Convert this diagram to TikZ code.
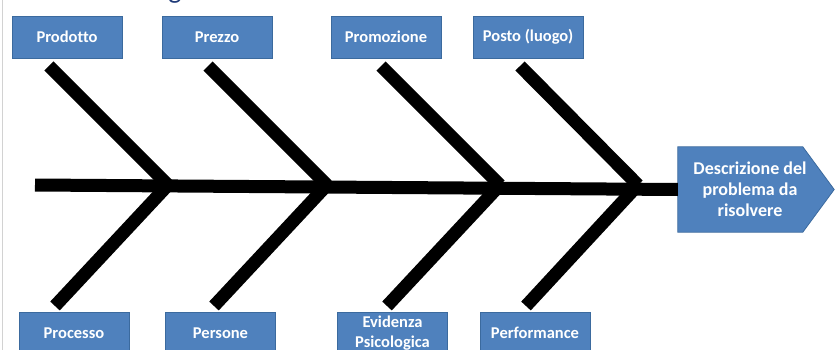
\documentclass[tikz,border=0pt]{standalone}
\usepackage{fontspec}
\setmainfont{Carlito}[Ligatures=CommonOff]
\definecolor{boxfill}{HTML}{4F81BD}
\definecolor{boxline}{HTML}{3B6A9E}
\definecolor{titleblue}{HTML}{1F3A78}
\tikzset{
  catbox/.style={draw=boxline, fill=boxfill, line width=0.8pt, minimum width=110pt, minimum height=42pt,
    inner sep=1pt, text=white, font=\fontsize{16.5}{20}\selectfont\bfseries, align=center},
  probbox/.style={inner sep=0pt, minimum width=144pt, minimum height=85pt, text=white,
    font=\fontsize{18}{21}\selectfont\bfseries, align=center},
  bone/.style={line width=13pt, line cap=butt, black},
}
\begin{document}
\begin{tikzpicture}[x=1pt,y=-1pt]
\useasboundingbox (0,0) rectangle (835,350);
\clip (0,0) rectangle (835,350);
% faint left border line and cut-off title fragment
\draw[gray!35, line width=0.8pt] (2.5,0) -- (2.5,350);
\node[anchor=base, text=titleblue, font=\fontsize{28}{30}\selectfont, inner sep=0pt] (title) at (175,-1.6) {g};
% category boxes
\node[catbox] (prodotto) at (67,37) {Prodotto};
\node[catbox] (prezzo) at (217,37) {Prezzo};
\node[catbox] (promozione) at (386,37) {Promozione};
\node[catbox] (posto) at (528,37) {Posto (luogo)};
\node[catbox] (processo) at (74,333) {Processo};
\node[catbox] (persone) at (220.5,333) {Persone};
\node[catbox] (evidenza) at (392.5,333) {Evidenza\\Psicologica};
\node[catbox] (performance) at (535,333) {Performance};
% problem box (pentagon)
\node[probbox] (prob) at (750,189.5) {};
\fill[boxfill, draw=boxline, line width=0.8pt] (prob.north west) -- ++(125,0) -- ([xshift=12pt]prob.east)
  -- ([xshift=125pt]prob.south west) -- (prob.south west) -- cycle;
\node[probbox] (probtext) at (prob) {Descrizione del\\problema da\\risolvere};
% spine and joints
\coordinate (tail) at (35,185);
\coordinate (j1) at (168,185);
\coordinate (j2) at (327,185);
\coordinate (j3) at (500,185);
\coordinate (j4) at (638,185);
\coordinate (u1) at (49,66);
\coordinate (u2) at (208,66);
\coordinate (u3) at (381,66);
\coordinate (u4) at (520,66);
\coordinate (l1) at (55,306);
\coordinate (l2) at (214,306);
\coordinate (l3) at (387,306);
\coordinate (l4) at (526,306);
\draw[bone] (tail) -- (prob.west);
\foreach \i in {1,2,3,4}{
  \draw[bone] (u\i) -- (j\i);
  \draw[bone] (l\i) -- (j\i);
}
\end{tikzpicture}
\end{document}
